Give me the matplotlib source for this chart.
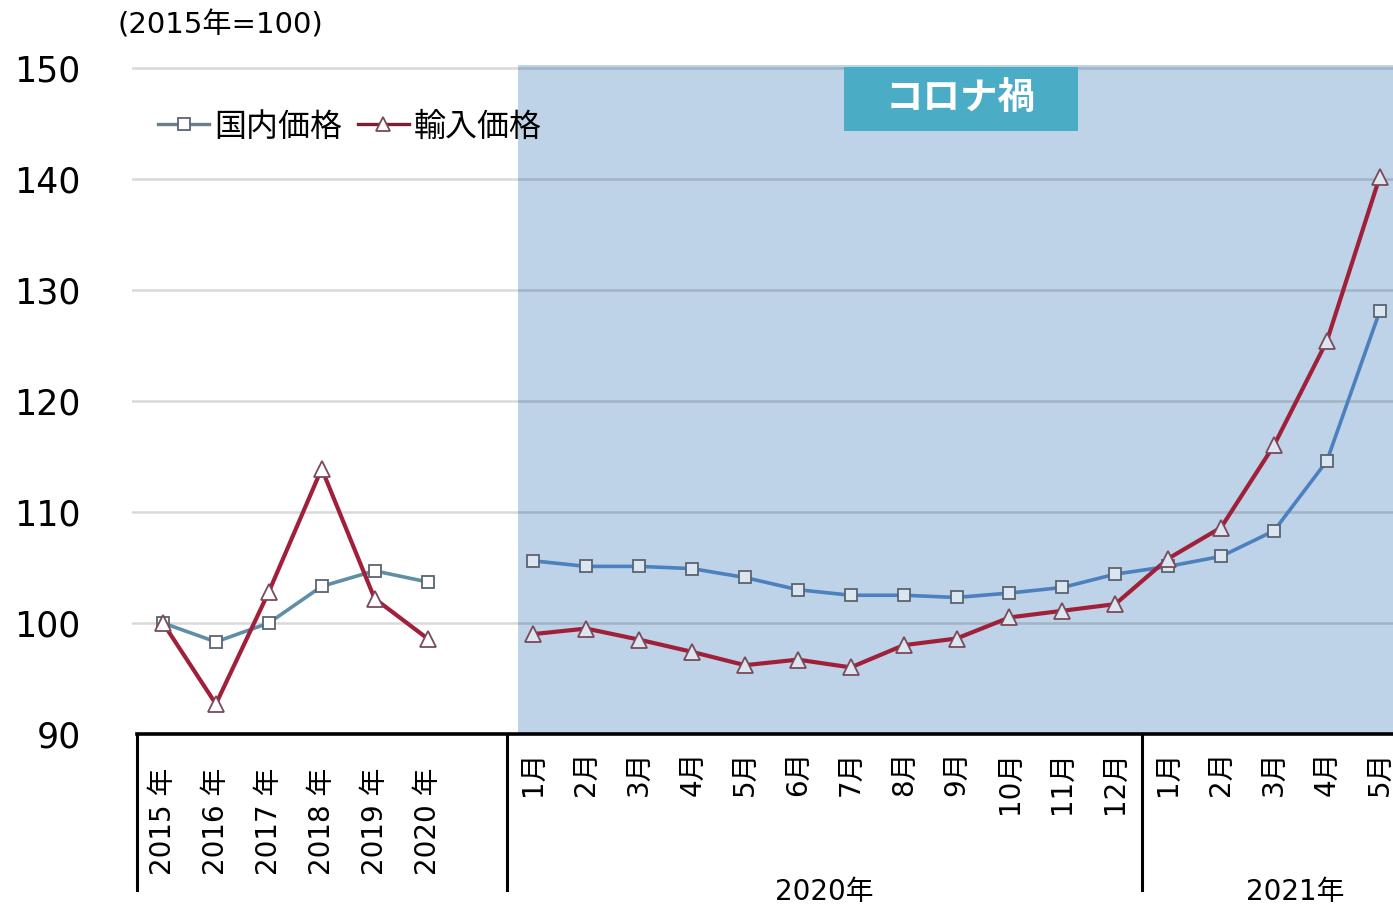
import numpy as np
import matplotlib
matplotlib.use('Agg')
import matplotlib.pyplot as plt
import matplotlib.transforms as mtransforms
from matplotlib.patches import Rectangle
from matplotlib.lines import Line2D

plt.rcParams['font.family'] = ['DejaVu Sans', 'Noto Sans CJK JP']

# data
annual_labels = ['2015 年', '2016 年', '2017 年', '2018 年', '2019 年', '2020 年']
month_labels_2020 = ['1月', '2月', '3月', '4月', '5月', '6月', '7月', '8月', '9月', '10月', '11月', '12月']
month_labels_2021 = ['1月', '2月', '3月', '4月', '5月']

domestic_annual = [100.0, 98.3, 100.0, 103.3, 104.7, 103.7]
import_annual = [100.0, 92.7, 102.8, 113.9, 102.2, 98.6]

domestic_monthly = [105.6, 105.1, 105.1, 104.9, 104.1, 103.0, 102.5, 102.5, 102.3, 102.7, 103.2, 104.4,
                    105.1, 106.0, 108.3, 114.6, 128.1]
import_monthly = [99.0, 99.5, 98.5, 97.4, 96.2, 96.7, 96.0, 98.0, 98.6, 100.5, 101.1, 101.7,
                  105.8, 108.6, 116.0, 125.4, 140.2]

W, H = 1393, 908
fig = plt.figure(figsize=(W / 100, H / 100), dpi=100)
ax = fig.add_axes([132 / W, (H - 734) / H, (W - 132) / W, (734 - 65) / H])

xa = np.arange(len(annual_labels))
xm = np.arange(len(month_labels_2020) + len(month_labels_2021)) + len(annual_labels) + 1

ax.set_xlim(-0.586, 23.25)
ax.set_ylim(90, 150.27)

# corona period shading
ax.axvspan(6.71, 23.25, color='#BED3E7', zorder=0, lw=0)
for v in [100, 110, 120, 130, 140, 150]:
    ax.axhline(v, color='black', alpha=0.15, lw=1.8, zorder=1)

# lines
dom_c_a, dom_c_m = '#5E8FA6', '#4C80BE'
imp_c = '#A0203A'
dom_kw = dict(lw=2.6, marker='s', ms=8, mec='#5A6470', mew=1.3, zorder=3)
imp_kw = dict(lw=3.0, marker='^', ms=11, mec='#7A4A5A', mew=1.3, zorder=4)
h_dom, = ax.plot(xa, domestic_annual, color=dom_c_a, mfc='white', **dom_kw)
h_imp, = ax.plot(xa, import_annual, color=imp_c, mfc='white', **imp_kw)
ax.plot(xm, domestic_monthly, color=dom_c_m, mfc='#DCE6F0', **dom_kw)
ax.plot(xm, import_monthly, color=imp_c, mfc='#DCE6F0', **imp_kw)

# axes styling
for s in ax.spines.values():
    s.set_visible(False)
ax.set_xticks([])
ax.set_yticks([90, 100, 110, 120, 130, 140, 150])
ax.tick_params(axis='y', length=0, pad=37, labelsize=25)
ax.plot([-0.5, 23.25], [90, 90], color='black', lw=2.6, clip_on=False, zorder=5)

# x labels
tr = mtransforms.blended_transform_factory(ax.transData, fig.transFigure)
for x, lab in zip(xa, annual_labels):
    ax.text(x, 1 - 768 / H, lab, transform=tr, rotation=90, ha='center', va='top', fontsize=20)
for x, lab in zip(xm, month_labels_2020 + month_labels_2021):
    ax.text(x, 1 - 751 / H, lab, transform=tr, rotation=90, ha='center', va='top', fontsize=20)
for xs in [-0.5, 6.5, 18.5]:
    ax.plot([xs, xs], [1 - 736 / H, 1 - 890 / H], transform=tr, color='black', lw=2.2, clip_on=False)
ax.text(12.5, 1 - 892 / H, '2020年', transform=tr, ha='center', va='center', fontsize=20)
ax.text(21.4, 1 - 892 / H, '2021年', transform=tr, ha='center', va='center', fontsize=20)

# unit
fig.text(118 / W, 1 - 25 / H, '(2015年=100)', ha='left', va='center', fontsize=21)

# legend
leg_dom = Line2D([], [], color='#6A7F8C', lw=2.4, marker='s', ms=8, mfc='white', mec='#5A6470', mew=1.3)
leg_imp = Line2D([], [], color='#7A1F35', lw=2.4, marker='^', ms=10, mfc='white', mec='#7A4A5A', mew=1.3)
fig.legend(handles=[leg_dom, leg_imp], labels=['国内価格', '輸入価格'], loc='center left',
           bbox_to_anchor=(158 / W, 1 - 127 / H), ncol=2, frameon=False, fontsize=23,
           handlelength=1.6, handletextpad=0.15, columnspacing=0.5, borderpad=0, borderaxespad=0)

# title box
fig.patches.append(Rectangle((844 / W, 1 - 131 / H), 234 / W, 64 / H, transform=fig.transFigure,
                             facecolor='#4BACC6', edgecolor='none', zorder=6))
fig.text(961 / W, 1 - 97 / H, 'コロナ禍', ha='center', va='center', fontsize=27, color='white',
         fontweight='bold', family=['Noto Sans CJK JP'], zorder=7)

fig.savefig('out.png', dpi=100)
